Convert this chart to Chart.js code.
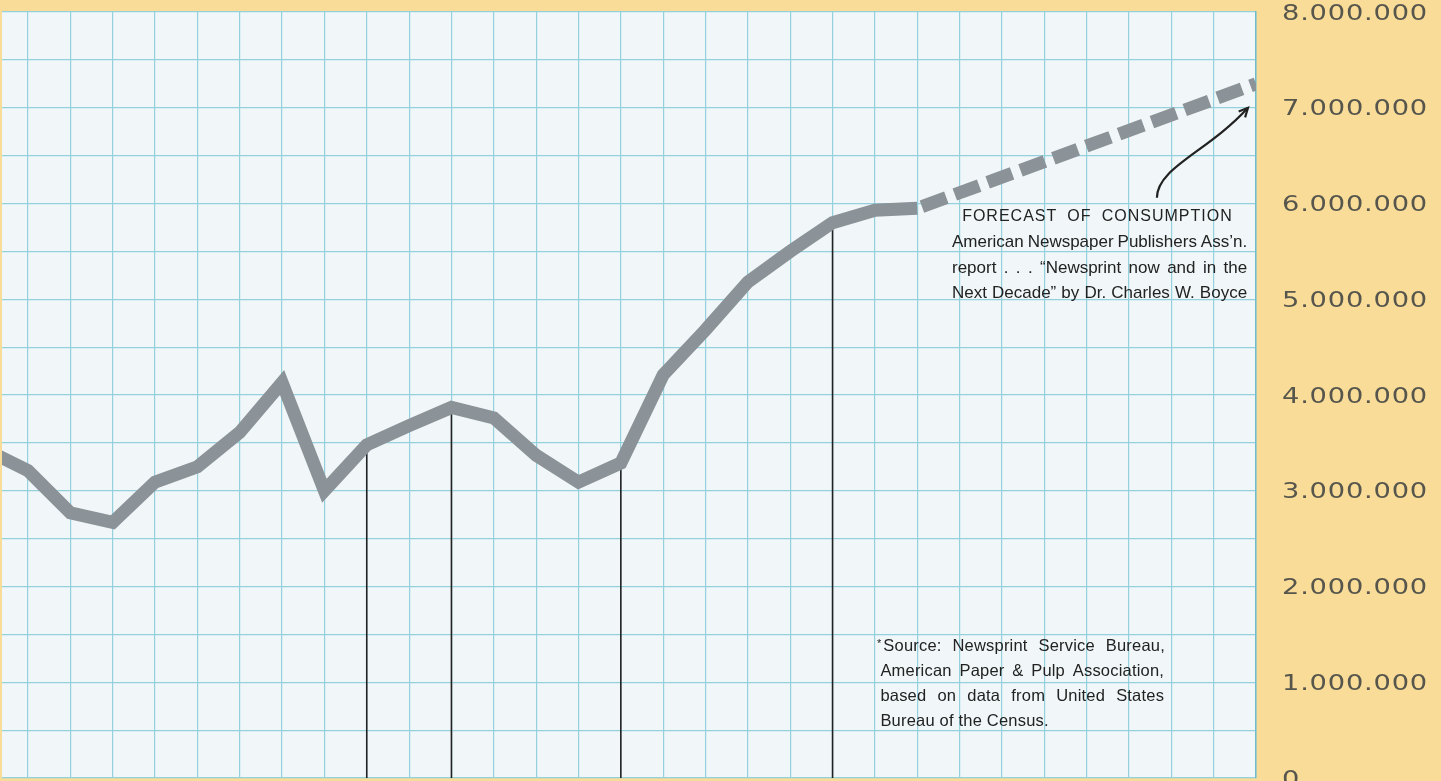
<!DOCTYPE html>
<html>
<head>
<meta charset="UTF-8">
<title>Newsprint consumption</title>
<style>
  html, body { margin: 0; padding: 0; background: #f9dc98; }
  #wrap { width: 1441px; height: 781px; position: relative; }
</style>
</head>
<body>
<div id="wrap"><canvas id="myChart"></canvas></div>
<script src="https://cdn.jsdelivr.net/npm/chart.js"></script>
<script>
// newsprint consumption, tons per year
const years = [1930, 1931, 1932, 1933, 1934, 1935, 1936, 1937, 1938, 1939, 1940, 1941,
               1942, 1943, 1944, 1945, 1946, 1947, 1948, 1949, 1950, 1951, 1952];
const consumption = [3430000, 3210000, 2770000, 2670000, 3090000, 3250000, 3610000, 4130000,
                     3000000, 3480000, 3680000, 3870000, 3760000, 3370000, 3090000, 3290000,
                     4210000, 4680000, 5180000, 5500000, 5800000, 5930000, 5950000];
const forecastYears = [1952, 1960];
const forecast = [5950000, 7250000];
const markerYears = [1939, 1941, 1945, 1950];

const forecastNote = [
  'FORECAST OF CONSUMPTION',
  'American Newspaper Publishers Ass\u2019n.',
  'report . . . \u201CNewsprint now and in the',
  'Next Decade\u201D by Dr. Charles W. Boyce'
];
const sourceNote = [
  'Source: Newsprint Service Bureau,',
  'American Paper & Pulp Association,',
  'based on data from United States',
  'Bureau of the Census.'
];

const gridColor = '#95d0dd';
const lineGray = '#8b9298';
const ink = '#222222';

// vertical grid: one line per year
const gridYears = [];
for (let y = 1931; y <= 1960; y++) gridYears.push(y);

function fmt(v) {
  return String(v).replace(/\B(?=(\d{3})+(?!\d))/g, '.');
}

function justify(ctx, text, x0, x1, y) {
  const words = text.split(' ');
  const widths = words.map(w => ctx.measureText(w).width);
  const total = widths.reduce((a, b) => a + b, 0);
  const gap = (x1 - x0 - total) / (words.length - 1);
  let x = x0;
  words.forEach((w, i) => { ctx.fillText(w, x, y); x += widths[i] + gap; });
}

const notes = {
  id: 'notes',
  beforeDraw(chart) {
    const {ctx, chartArea: a} = chart;
    ctx.save();
    ctx.fillStyle = '#f1f7f9';
    ctx.fillRect(a.left, a.top, a.right - a.left, a.bottom - a.top);
    ctx.restore();
  },
  afterDraw(chart) {
    const ctx = chart.ctx;
    const sx = chart.scales.x, sy = chart.scales.y;
    const px = v => sx.getPixelForValue(v);
    const py = v => sy.getPixelForValue(v);

    // y axis numbers, wide lettering
    ctx.save();
    ctx.fillStyle = '#57564d';
    ctx.font = '21px "DejaVu Sans", sans-serif';
    ctx.letterSpacing = '0.6px';
    ctx.textBaseline = 'alphabetic';
    sy.ticks.forEach(t => {
      if (t.value % 1000000 !== 0) return;
      ctx.save();
      ctx.translate(chart.chartArea.right + 26, py(t.value) + 7.6);
      ctx.scale(1.3, 1);
      ctx.fillText(fmt(t.value), 0, 0);
      ctx.restore();
    });
    ctx.restore();

    ctx.save();
    ctx.fillStyle = ink;
    ctx.textBaseline = 'middle';

    // forecast note
    let y0 = py(5860000);
    ctx.font = '16px "Liberation Sans", Arial, sans-serif';
    ctx.letterSpacing = '1px';
    justify(ctx, forecastNote[0], px(1953.06), px(1959.45), y0);
    ctx.font = '17px "Liberation Sans", Arial, sans-serif';
    ctx.letterSpacing = '0px';
    for (let i = 1; i < forecastNote.length; i++) {
      justify(ctx, forecastNote[i], px(1952.82), px(1959.79), y0 + i * 25.5);
    }

    // source note
    y0 = py(1370000);
    ctx.font = '11px "Liberation Sans", Arial, sans-serif';
    ctx.fillText('*', px(1951.05), y0 - 3);
    ctx.font = '16.5px "Liberation Sans", Arial, sans-serif';
    ctx.letterSpacing = '0.2px';
    justify(ctx, sourceNote[0], px(1951.2), px(1957.85), y0);
    justify(ctx, sourceNote[1], px(1951.13), px(1957.83), y0 + 25);
    justify(ctx, sourceNote[2], px(1951.13), px(1957.83), y0 + 50);
    ctx.fillText(sourceNote[3], px(1951.13), y0 + 75);

    // arrow from the note to the forecast line
    const s = {x: px(1957.66), y: py(6060000)};
    const t = {x: px(1959.81), y: py(7000000)};
    ctx.strokeStyle = ink;
    ctx.lineWidth = 2.2;
    ctx.beginPath();
    ctx.moveTo(s.x, s.y);
    ctx.bezierCurveTo(s.x, s.y - 30, t.x - 40, t.y + 44, t.x, t.y);
    ctx.stroke();
    const ang = Math.atan2(-44, 40);
    ctx.beginPath();
    ctx.moveTo(t.x - 10 * Math.cos(ang - 0.45), t.y - 10 * Math.sin(ang - 0.45));
    ctx.lineTo(t.x, t.y);
    ctx.lineTo(t.x - 10 * Math.cos(ang + 0.45), t.y - 10 * Math.sin(ang + 0.45));
    ctx.stroke();
    ctx.restore();
  }
};

const datasets = [
  {
    label: 'Consumption',
    data: years.map((y, i) => ({x: y, y: consumption[i]})),
    borderColor: lineGray,
    borderWidth: 13,
    borderJoinStyle: 'miter',
    borderCapStyle: 'butt',
    pointRadius: 0,
    clip: 0,
    order: 0
  },
  {
    label: 'Forecast',
    data: forecastYears.map((y, i) => ({x: y, y: forecast[i]})),
    borderColor: lineGray,
    borderWidth: 13,
    borderDash: [26, 9],
    borderDashOffset: 30,
    borderCapStyle: 'butt',
    pointRadius: 0,
    clip: 0,
    order: 1
  }
];
markerYears.forEach(yr => {
  datasets.push({
    label: 'marker ' + yr,
    data: [{x: yr, y: 0}, {x: yr, y: consumption[years.indexOf(yr)]}],
    borderColor: ink,
    borderWidth: 1.6,
    pointRadius: 0,
    order: 2
  });
});

const myChart = new Chart(document.getElementById('myChart'), {
  type: 'line',
  data: {datasets: datasets},
  plugins: [notes],
  options: {
    responsive: true,
    maintainAspectRatio: false,
    animation: false,
    layout: {padding: {top: 12, left: 2, right: 0, bottom: 3}},
    plugins: {legend: {display: false}, tooltip: {enabled: false}},
    scales: {
      x: {
        type: 'linear',
        min: 1930.386,
        max: 1960,
        afterBuildTicks: s => { s.ticks = gridYears.map(v => ({value: v})); },
        ticks: {display: false},
        grid: {color: gridColor, lineWidth: 1.2, drawTicks: false},
        border: {display: false},
        afterFit: s => { s.height = 0; s.paddingLeft = 0; s.paddingRight = 0; }
      },
      y: {
        position: 'right',
        min: 0,
        max: 8000000,
        ticks: {stepSize: 500000, autoSkip: false, display: false},
        grid: {color: gridColor, lineWidth: 1.2, drawTicks: false},
        border: {color: '#6fbccd', width: 1.5},
        afterFit: s => { s.width = 185; s.paddingTop = 0; s.paddingBottom = 0; }
      }
    }
  }
});
</script>
</body>
</html>
